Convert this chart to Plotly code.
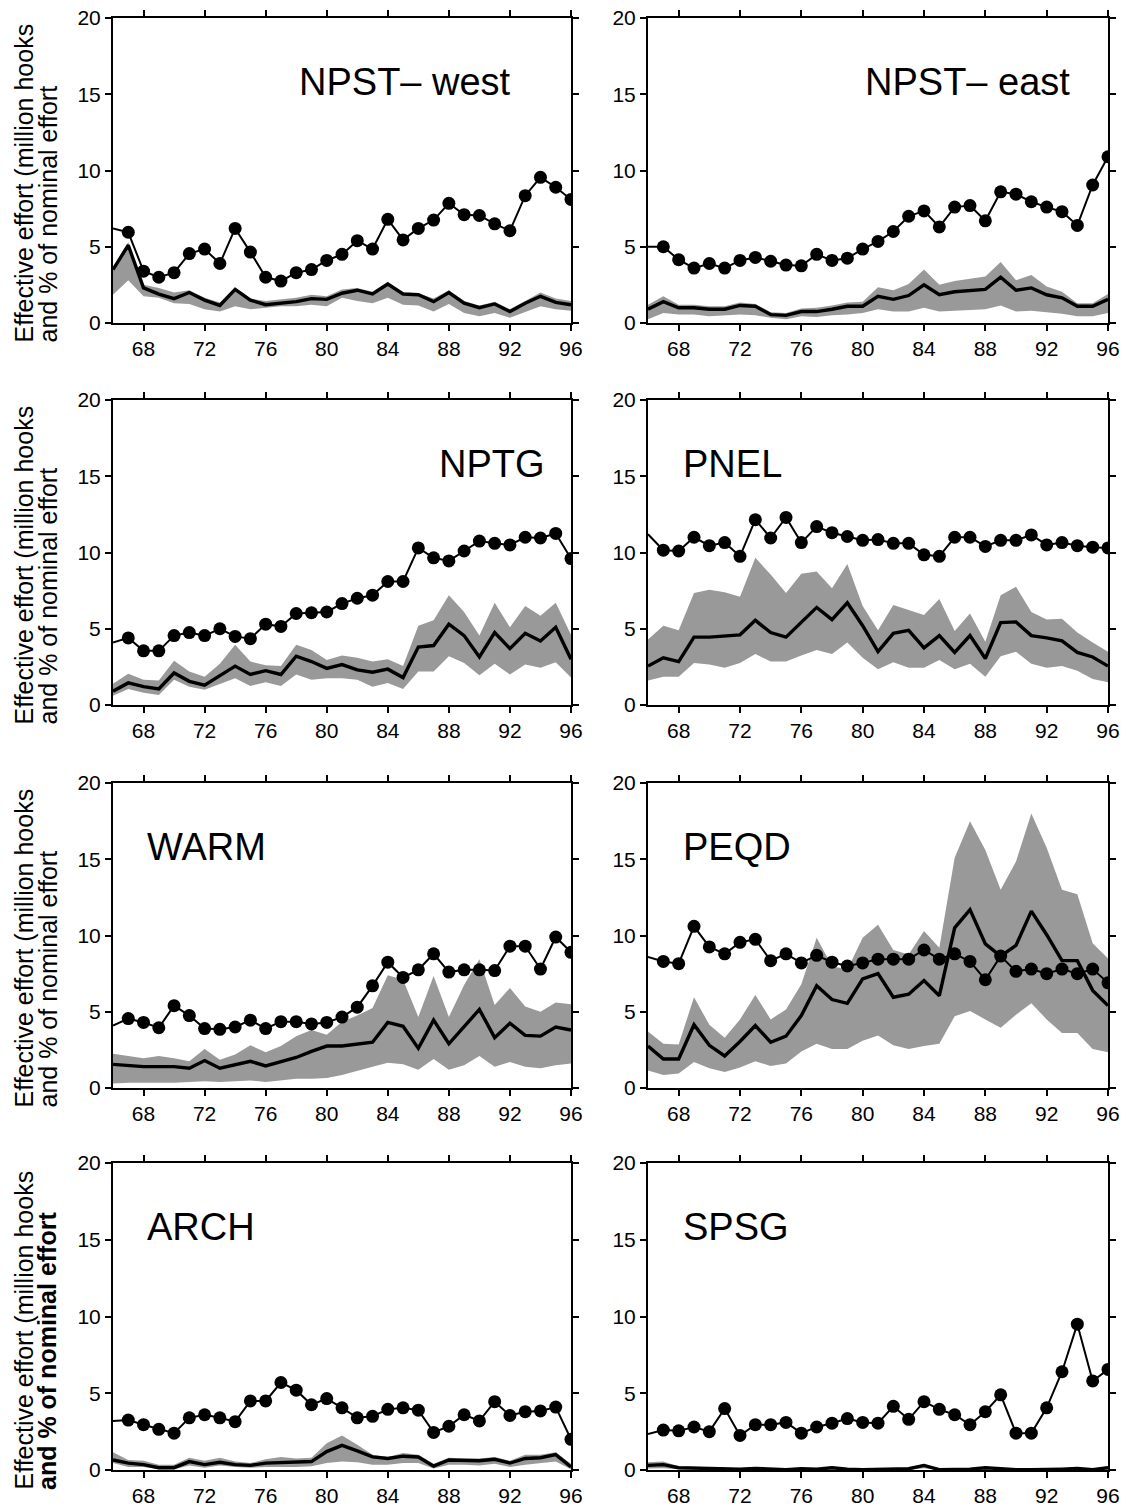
import plotly.graph_objects as go

# x positions (two-digit years) and axis ticks
years = list(range(66, 97))
tick_years = [68, 72, 76, 80, 84, 88, 92, 96]
y_ticks = [0, 5, 10, 15, 20]

region_names = ["NPST\u2013 west", "NPST\u2013 east", "NPTG", "PNEL",
                "WARM", "PEQD", "ARCH", "SPSG"]

y_title_1 = "Effective effort (million hooks"
y_title_2 = "and % of nominal effort"

# ---- NPST west ----
npstw_nominal = [6.2, 5.95, 3.4, 3.0, 3.3, 4.55, 4.85, 3.9, 6.2, 4.65, 3.0, 2.75, 3.3, 3.5, 4.1, 4.5,
                 5.4, 4.85, 6.8, 5.45, 6.2, 6.75, 7.85, 7.1, 7.05, 6.5, 6.05, 8.35, 9.55, 8.9, 8.1]
npstw_effective = [3.5, 5.1, 2.3, 1.9, 1.6, 2.0, 1.5, 1.15, 2.2, 1.5, 1.2, 1.3, 1.4, 1.6, 1.55, 1.95,
                   2.15, 1.9, 2.55, 1.9, 1.85, 1.4, 2.0, 1.3, 1.0, 1.25, 0.75, 1.3, 1.75, 1.35, 1.2]
npstw_upper = [3.6, 5.3, 2.5, 2.3, 2.0, 2.15, 1.65, 1.35, 2.35, 1.6, 1.45, 1.55, 1.65, 1.85, 1.75, 2.2,
               2.3, 2.05, 2.7, 2.0, 1.95, 1.6, 2.15, 1.45, 1.15, 1.4, 0.9, 1.45, 2.0, 1.6, 1.45]
npstw_lower = [1.85, 2.8, 1.75, 1.65, 1.3, 1.25, 0.9, 0.75, 1.1, 0.9, 1.0, 1.1, 1.1, 1.2, 1.1, 1.65,
               1.45, 1.3, 1.65, 1.2, 1.15, 0.75, 1.25, 0.65, 0.45, 0.65, 0.35, 0.75, 1.1, 0.9, 0.8]

# ---- NPST east ----
npste_nominal = [5.0, 5.0, 4.15, 3.6, 3.9, 3.6, 4.1, 4.3, 4.05, 3.8, 3.75, 4.5, 4.1, 4.25, 4.85, 5.35,
                 6.0, 7.0, 7.35, 6.3, 7.6, 7.7, 6.7, 8.6, 8.45, 7.95, 7.6, 7.3, 6.4, 9.05, 10.9]
npste_effective = [0.9, 1.4, 1.0, 1.0, 0.9, 0.9, 1.15, 1.1, 0.55, 0.5, 0.75, 0.75, 0.9, 1.1, 1.1, 1.75,
                   1.55, 1.8, 2.5, 1.85, 2.05, 2.15, 2.2, 3.0, 2.15, 2.3, 1.85, 1.65, 1.1, 1.1, 1.55]
npste_upper = [1.2, 1.75, 1.2, 1.2, 1.1, 1.1, 1.35, 1.25, 0.7, 0.65, 0.95, 1.0, 1.15, 1.35, 1.4, 2.35,
               2.15, 2.55, 3.5, 2.5, 2.75, 2.9, 3.05, 4.0, 2.8, 3.15, 2.4, 2.05, 1.3, 1.3, 1.9]
npste_lower = [0.25, 0.65, 0.55, 0.55, 0.45, 0.5, 0.55, 0.5, 0.35, 0.25, 0.45, 0.4, 0.5, 0.55, 0.65, 0.9,
               0.75, 0.75, 1.0, 0.75, 0.8, 0.85, 0.9, 1.15, 0.75, 0.8, 0.7, 0.6, 0.45, 0.45, 0.65]

# ---- NPTG ----
nptg_nominal = [4.1, 4.4, 3.55, 3.55, 4.55, 4.75, 4.55, 5.0, 4.5, 4.35, 5.3, 5.15, 6.0, 6.05, 6.1, 6.65,
                7.0, 7.2, 8.1, 8.1, 10.3, 9.65, 9.45, 10.1, 10.75, 10.6, 10.5, 11.0, 10.95, 11.25, 9.6]
nptg_effective = [0.9, 1.45, 1.2, 1.05, 2.1, 1.55, 1.3, 1.9, 2.55, 2.0, 2.25, 2.0, 3.2, 2.85, 2.4, 2.65,
                  2.3, 2.15, 2.35, 1.8, 3.8, 3.9, 5.3, 4.55, 3.15, 4.75, 3.7, 4.7, 4.2, 5.1, 3.0]
nptg_upper = [1.4, 2.05, 1.65, 1.6, 2.9, 2.2, 1.85, 2.7, 3.95, 2.85, 2.6, 2.55, 3.95, 3.6, 2.95, 3.25,
              3.1, 2.85, 3.0, 2.55, 5.2, 5.55, 7.2, 6.1, 4.55, 6.7, 5.1, 6.5, 5.85, 6.7, 4.6]
nptg_lower = [0.6, 1.05, 0.8, 0.65, 1.65, 1.2, 1.0, 1.35, 1.75, 1.25, 1.5, 1.25, 2.0, 1.65, 1.75, 1.75,
              1.65, 1.2, 1.45, 1.05, 2.2, 2.2, 3.2, 2.75, 1.95, 2.7, 2.0, 2.65, 2.45, 2.8, 1.8]

# ---- PNEL ----
pnel_nominal = [11.2, 10.15, 10.1, 11.0, 10.45, 10.65, 9.75, 12.15, 10.95, 12.3, 10.65, 11.7, 11.3, 11.05,
                10.8, 10.85, 10.6, 10.6, 9.85, 9.75, 11.0, 11.0, 10.4, 10.8, 10.8, 11.15, 10.5, 10.65,
                10.45, 10.35, 10.3]
pnel_effective = [2.55, 3.1, 2.85, 4.45, 4.45, 4.5, 4.6, 5.55, 4.75, 4.45, 5.45, 6.4, 5.6, 6.7, 5.2, 3.5,
                  4.7, 4.9, 3.75, 4.55, 3.45, 4.55, 3.05, 5.4, 5.45, 4.55, 4.4, 4.2, 3.45, 3.15, 2.55]
pnel_upper = [4.3, 5.2, 4.9, 7.35, 7.55, 7.4, 7.1, 9.65, 8.55, 7.35, 8.6, 8.75, 7.65, 9.25, 6.5, 4.9,
              6.55, 6.25, 5.9, 6.95, 4.85, 6.0, 4.15, 7.2, 7.75, 6.1, 5.6, 5.65, 4.75, 4.1, 3.5]
pnel_lower = [1.6, 1.85, 1.85, 2.75, 2.65, 2.45, 2.75, 3.35, 2.85, 2.85, 3.25, 3.6, 3.35, 4.1, 3.1, 2.35,
              2.8, 2.45, 2.45, 2.95, 2.35, 2.7, 1.85, 3.2, 3.5, 2.7, 2.45, 2.55, 2.25, 1.7, 1.5]

# ---- WARM ----
warm_nominal = [4.1, 4.55, 4.3, 3.95, 5.4, 4.75, 3.9, 3.85, 4.0, 4.45, 3.9, 4.35, 4.35, 4.2, 4.3, 4.65,
                5.3, 6.7, 8.25, 7.25, 7.75, 8.8, 7.6, 7.75, 7.75, 7.7, 9.3, 9.3, 7.8, 9.9, 8.9]
warm_effective = [1.55, 1.45, 1.4, 1.4, 1.4, 1.3, 1.8, 1.3, 1.5, 1.75, 1.45, 1.7, 2.0, 2.4, 2.75, 2.75,
                  2.85, 3.0, 4.3, 4.05, 2.6, 4.45, 2.9, 4.05, 5.15, 3.3, 4.25, 3.45, 3.4, 4.0, 3.8]
warm_upper = [2.25, 2.1, 1.95, 2.1, 1.95, 1.75, 2.55, 1.85, 2.2, 2.8, 2.35, 2.75, 3.4, 3.8, 3.5, 4.35,
              4.75, 5.25, 7.4, 7.1, 4.65, 7.35, 4.65, 6.75, 8.45, 5.45, 6.55, 5.35, 5.0, 5.6, 5.5]
warm_lower = [0.3, 0.35, 0.35, 0.35, 0.35, 0.4, 0.45, 0.4, 0.45, 0.5, 0.4, 0.5, 0.6, 0.6, 0.65, 0.85,
              1.15, 1.4, 1.65, 1.55, 1.2, 1.9, 1.2, 1.5, 2.1, 1.4, 1.7, 1.4, 1.3, 1.5, 1.6]

# ---- PEQD ----
peqd_nominal = [8.6, 8.3, 8.15, 10.6, 9.25, 8.8, 9.55, 9.75, 8.35, 8.8, 8.2, 8.7, 8.25, 8.0, 8.2, 8.45,
                8.45, 8.45, 9.05, 8.45, 8.8, 8.3, 7.1, 8.65, 7.65, 7.8, 7.5, 7.8, 7.5, 7.8, 6.9]
peqd_effective = [2.75, 1.9, 1.9, 4.15, 2.8, 2.1, 3.05, 4.1, 3.0, 3.4, 4.75, 6.7, 5.8, 5.55, 7.15, 7.5,
                  5.95, 6.15, 7.05, 6.05, 10.5, 11.7, 9.45, 8.65, 9.35, 11.6, 10.05, 8.35, 8.35, 6.4, 5.4]
peqd_upper = [3.7, 2.9, 2.85, 5.95, 4.15, 3.3, 4.5, 6.1, 4.5, 5.15, 6.8, 9.85, 8.0, 7.75, 9.85, 10.7,
              9.05, 8.75, 10.3, 9.2, 15.1, 17.5, 15.6, 13.0, 14.85, 18.0, 15.75, 13.0, 12.7, 9.5, 8.5]
peqd_lower = [1.15, 0.85, 0.95, 1.7, 1.3, 1.05, 1.35, 1.75, 1.45, 1.6, 2.4, 2.9, 2.55, 2.55, 3.1, 3.45,
              2.8, 2.55, 2.75, 2.9, 4.7, 5.05, 4.5, 3.95, 4.8, 5.55, 4.5, 3.6, 3.6, 2.55, 2.35]

# ---- ARCH ----
arch_nominal = [3.2, 3.25, 2.95, 2.65, 2.4, 3.4, 3.6, 3.4, 3.15, 4.5, 4.5, 5.7, 5.2, 4.25, 4.65, 4.05,
                3.4, 3.5, 3.95, 4.05, 3.9, 2.45, 2.85, 3.6, 3.2, 4.45, 3.55, 3.8, 3.85, 4.1, 2.0]
arch_effective = [0.65, 0.45, 0.35, 0.15, 0.15, 0.55, 0.35, 0.5, 0.35, 0.3, 0.45, 0.5, 0.5, 0.55, 1.2, 1.6,
                  1.25, 0.85, 0.75, 0.9, 0.85, 0.25, 0.65, 0.65, 0.6, 0.7, 0.45, 0.75, 0.8, 1.0, 0.2]
arch_upper = [1.15, 0.65, 0.6, 0.35, 0.35, 0.8, 0.6, 0.8, 0.55, 0.45, 0.7, 0.85, 0.75, 0.8, 1.75, 2.25,
              1.65, 1.0, 0.85, 1.1, 1.0, 0.4, 0.8, 0.75, 0.75, 0.85, 0.6, 1.0, 1.0, 1.15, 0.4]
arch_lower = [0.45, 0.2, 0.2, 0.05, 0.05, 0.3, 0.15, 0.3, 0.2, 0.15, 0.2, 0.2, 0.2, 0.25, 0.45, 0.55,
              0.5, 0.35, 0.35, 0.45, 0.45, 0.1, 0.35, 0.35, 0.3, 0.4, 0.2, 0.35, 0.45, 0.55, 0.05]

# ---- SPSG ----
spsg_nominal = [2.35, 2.6, 2.55, 2.8, 2.5, 4.0, 2.25, 2.95, 2.95, 3.1, 2.4, 2.8, 3.05, 3.35, 3.1, 3.05,
                4.15, 3.3, 4.45, 3.95, 3.6, 2.95, 3.8, 4.9, 2.4, 2.4, 4.05, 6.4, 9.5, 5.8, 6.55]
spsg_effective = [0.3, 0.35, 0.15, 0.12, 0.1, 0.1, 0.05, 0.1, 0.05, 0.02, 0.08, 0.05, 0.15, 0.05, 0.02,
                  0.05, 0.06, 0.08, 0.3, 0.02, 0.03, 0.05, 0.15, 0.08, 0.02, 0.02, 0.02, 0.06, 0.1, 0.02, 0.15]
spsg_upper = [0.5, 0.55, 0.25, 0.2, 0.18, 0.16, 0.1, 0.16, 0.1, 0.06, 0.14, 0.1, 0.22, 0.1, 0.06,
              0.1, 0.12, 0.14, 0.4, 0.06, 0.07, 0.1, 0.22, 0.14, 0.05, 0.05, 0.05, 0.12, 0.16, 0.06, 0.25]
spsg_lower = [0.1, 0.12, 0.05, 0.04, 0.03, 0.03, 0.01, 0.03, 0.01, 0.0, 0.02, 0.01, 0.05, 0.01, 0.0,
              0.01, 0.02, 0.02, 0.12, 0.0, 0.0, 0.01, 0.05, 0.02, 0.0, 0.0, 0.0, 0.02, 0.03, 0.0, 0.05]

panels = [
    (npstw_nominal, npstw_effective, npstw_upper, npstw_lower),
    (npste_nominal, npste_effective, npste_upper, npste_lower),
    (nptg_nominal, nptg_effective, nptg_upper, nptg_lower),
    (pnel_nominal, pnel_effective, pnel_upper, pnel_lower),
    (warm_nominal, warm_effective, warm_upper, warm_lower),
    (peqd_nominal, peqd_effective, peqd_upper, peqd_lower),
    (arch_nominal, arch_effective, arch_upper, arch_lower),
    (spsg_nominal, spsg_effective, spsg_upper, spsg_lower),
]

# ---- page geometry (pixels) ----
W, H = 1127, 1509
col_px = [(113, 571), (648, 1108)]
row_px = [(18, 323), (400, 705), (783, 1088), (1163, 1470)]
# region label anchor inside each panel (fraction of plot area)
label_x = [0.402, 0.467, 0.707, 0.072, 0.07, 0.072, 0.07, 0.072]
label_y = 0.79

FONT = "Liberation Sans, Arial, Helvetica, sans-serif"
BAND = "#999999"

fig = go.Figure()
layout_axes = {}
annotations = []

for i, (nominal, effective, upper, lower) in enumerate(panels):
    r, c = divmod(i, 2)
    n = i + 1
    xa = "x" if n == 1 else f"x{n}"
    ya = "y" if n == 1 else f"y{n}"

    # uncertainty band
    fig.add_trace(go.Scatter(x=years, y=lower, xaxis=xa, yaxis=ya, mode="lines",
                             line=dict(width=0, color=BAND), hoverinfo="skip"))
    fig.add_trace(go.Scatter(x=years, y=upper, xaxis=xa, yaxis=ya, mode="lines",
                             line=dict(width=0, color=BAND), fill="tonexty",
                             fillcolor=BAND, hoverinfo="skip"))
    # effective effort
    fig.add_trace(go.Scatter(x=years, y=effective, xaxis=xa, yaxis=ya, mode="lines",
                             line=dict(width=3.4, color="black")))
    # nominal effort (percent); the first year is drawn without a marker
    sizes = [0] + [13] * (len(years) - 1)
    fig.add_trace(go.Scatter(x=years, y=nominal, xaxis=xa, yaxis=ya, mode="lines+markers",
                             line=dict(width=2, color="black"),
                             marker=dict(size=sizes, color="black", opacity=1,
                                         line=dict(width=0))))

    x0, x1 = col_px[c]
    y0, y1 = row_px[r]
    axis_common = dict(showline=True, linewidth=2, linecolor="black", mirror="ticks",
                       ticks="outside", ticklen=6, tickwidth=1.5, tickcolor="black",
                       showgrid=False, zeroline=False, fixedrange=True, automargin=False,
                       tickfont=dict(family=FONT, size=21, color="black"))
    layout_axes["xaxis" if n == 1 else f"xaxis{n}"] = dict(
        axis_common, domain=[x0 / W, x1 / W], range=[66, 96], anchor=ya,
        tickmode="array", tickvals=tick_years, ticktext=[str(t) for t in tick_years])
    layout_axes["yaxis" if n == 1 else f"yaxis{n}"] = dict(
        axis_common, domain=[1 - y1 / H, 1 - y0 / H], range=[0, 20], anchor=xa,
        tickmode="array", tickvals=y_ticks)

    annotations.append(dict(text=region_names[i], xref=f"{xa} domain", yref=f"{ya} domain",
                            x=label_x[i], y=label_y, xanchor="left", yanchor="middle",
                            showarrow=False, font=dict(family=FONT, size=38, color="black")))

    if c == 0:
        second = y_title_2 if r < 3 else "<b>" + y_title_2 + "</b>"
        for text, cx in ((y_title_1, 23), (second, 47)):
            annotations.append(dict(text=text, xref="paper", yref="paper",
                                    x=cx / W, y=1 - (y1 + 22) / H,
                                    xanchor="center", yanchor="bottom",
                                    textangle=-90, showarrow=False,
                                    font=dict(family=FONT, size=25, color="black")))

fig.update_layout(width=W, height=H, margin=dict(l=0, r=0, t=0, b=0, autoexpand=False),
                  paper_bgcolor="white", plot_bgcolor="white", showlegend=False,
                  annotations=annotations, **layout_axes)

fig.write_html("out.html")
